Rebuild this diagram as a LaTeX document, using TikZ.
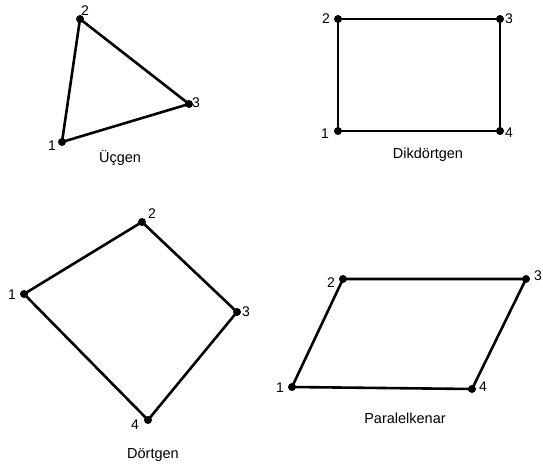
\documentclass[tikz,border=0pt]{standalone}
\usepackage{fontspec}
\setmainfont{Liberation Sans}
\usetikzlibrary{positioning}

\begin{document}
\begin{tikzpicture}[x=1pt, y=-1pt,
  vdot/.style={circle, fill=black, inner sep=0pt, minimum size=8pt},
  num/.style={font=\fontsize{14}{16}\selectfont, inner sep=0pt},
  shapename/.style={font=\fontsize{14.5}{16}\selectfont, inner sep=0pt},
  edge/.style={line width=2.6pt, line join=round},
]
\useasboundingbox (0,0) rectangle (543,468);
% Üçgen
\node[vdot] (t1) at (62,142) {};
\node[vdot] (t2) at (80,19) {};
\node[vdot] (t3) at (189,104) {};
\draw[edge] (t1.center) -- (t2.center) -- (t3.center) -- cycle;
\node[num] (t1n) at (52,146) {1};
\node[num] (t2n) at (85,11) {2};
\node[num] (t3n) at (196,103) {3};
\node[shapename] (ucgen) at (120,158) {Üçgen};
% Dikdörtgen
\node[vdot] (r1) at (338,131) {};
\node[vdot] (r2) at (338,19) {};
\node[vdot] (r3) at (500,19) {};
\node[vdot] (r4) at (500,131) {};
\draw[edge] (r1.center) -- (r2.center) -- (r3.center) -- (r4.center) -- cycle;
\node[num] (r1n) at (325,134) {1};
\node[num] (r2n) at (326,19) {2};
\node[num] (r3n) at (509,19) {3};
\node[num] (r4n) at (509,133) {4};
\node[shapename] (dik) at (428,155) {Dikdörtgen};
% Dörtgen
\node[vdot] (d1) at (24,294) {};
\node[vdot] (d2) at (142,222) {};
\node[vdot] (d3) at (237,312) {};
\node[vdot] (d4) at (148,420) {};
\draw[edge] (d1.center) -- (d2.center) -- (d3.center) -- (d4.center) -- cycle;
\node[num] (d1n) at (12,295) {1};
\node[num] (d2n) at (152,214) {2};
\node[num] (d3n) at (246,312) {3};
\node[num] (d4n) at (135,425) {4};
\node[shapename] (dortgen) at (153,455) {Dörtgen};
% Paralelkenar
\node[vdot] (p1) at (292,387) {};
\node[vdot] (p2) at (343,279) {};
\node[vdot] (p3) at (526,279) {};
\node[vdot] (p4) at (472,389) {};
\draw[edge] (p1.center) -- (p2.center) -- (p3.center) -- (p4.center) -- cycle;
\node[num] (p1n) at (280,388) {1};
\node[num] (p2n) at (331,283) {2};
\node[num] (p3n) at (538,276) {3};
\node[num] (p4n) at (483,387) {4};
\node[shapename] (paralel) at (405,418) {Paralelkenar};
\end{tikzpicture}
\end{document}
